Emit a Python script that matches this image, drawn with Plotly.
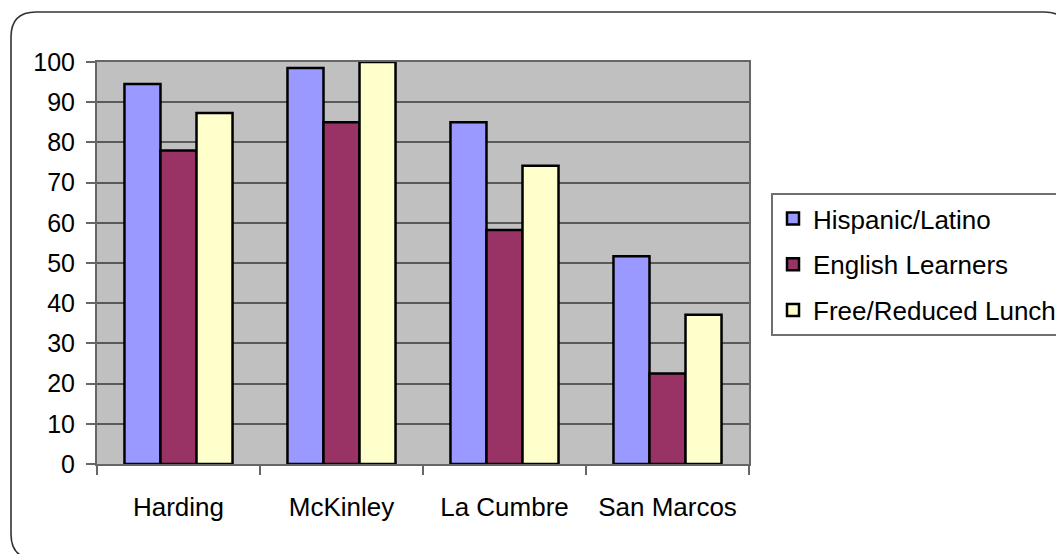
import plotly.graph_objects as go

# School demographics (% of students)
schools = ["Harding", "McKinley", "La Cumbre", "San Marcos"]
hispanic_latino = [94.5, 98.5, 85, 51.7]
english_learners = [78, 85, 58.2, 22.5]
free_reduced_lunch = [87.3, 100, 74.2, 37.1]
y_ticks = [0, 10, 20, 30, 40, 50, 60, 70, 80, 90, 100]

series = [
    ("Hispanic/Latino", hispanic_latino, "#9999FF"),
    ("English Learners", english_learners, "#993366"),
    ("Free/Reduced Lunch", free_reduced_lunch, "#FFFFCC"),
]

W, H = 1056, 554
L, R, T, B = 97, 749, 62, 464  # plot area in pixels

FONT = "Arial, 'Liberation Sans', sans-serif"

fig = go.Figure()
for i, (name, vals, color) in enumerate(series):
    fig.add_trace(go.Bar(
        x=schools, y=vals, name=name,
        legendgroup=f"g{i}",
        marker=dict(color=color, line=dict(color="black", width=2.5)),
    ))


def px_x(px):
    return (px - L) / (R - L)


def px_y(py):
    return (B - py) / (B - T)


# rounded outer frame around the whole chart
x0, x1, y0, y1, r = 11, 1069, 12, 559, 25
frame = (
    f"M {px_x(x0 + r)},{px_y(y0)} L {px_x(x1 - r)},{px_y(y0)} "
    f"Q {px_x(x1)},{px_y(y0)} {px_x(x1)},{px_y(y0 + r)} "
    f"L {px_x(x1)},{px_y(y1 - r)} "
    f"Q {px_x(x1)},{px_y(y1)} {px_x(x1 - r)},{px_y(y1)} "
    f"L {px_x(x0 + r)},{px_y(y1)} "
    f"Q {px_x(x0)},{px_y(y1)} {px_x(x0)},{px_y(y1 - r)} "
    f"L {px_x(x0)},{px_y(y0 + r)} "
    f"Q {px_x(x0)},{px_y(y0)} {px_x(x0 + r)},{px_y(y0)} Z"
)

fig.update_layout(
    width=W, height=H,
    margin=dict(l=L, r=W - R, t=T, b=H - B, pad=0, autoexpand=False),
    paper_bgcolor="white",
    plot_bgcolor="#C0C0C0",
    barmode="group",
    bargap=0.337,
    bargroupgap=0,
    font=dict(family=FONT, size=25, color="black"),
    showlegend=True,
    legend=dict(
        x=px_x(771), y=px_y(193), xanchor="left", yanchor="top",
        bgcolor="white", bordercolor="#707070", borderwidth=2,
        font=dict(family=FONT, size=26, color="black"),
        tracegroupgap=9, itemwidth=30,
    ),
    shapes=[dict(type="path", xref="paper", yref="paper", path=frame,
                 line=dict(color="#333333", width=1.6), layer="below")],
)

fig.update_xaxes(
    type="category",
    tickson="boundaries",
    ticks="outside", ticklen=9, tickcolor="#666666", tickwidth=2,
    showline=True, linecolor="#666666", linewidth=2, mirror=True,
    showgrid=False,
    ticklabelstandoff=19,
    tickfont=dict(family=FONT, size=26, color="black"),
)
fig.update_yaxes(
    range=[0, 100],
    tickvals=y_ticks,
    ticks="outside", ticklen=9, tickcolor="#666666", tickwidth=2,
    showline=True, linecolor="#666666", linewidth=2, mirror=True,
    showgrid=True, gridcolor="#5A5A5A", gridwidth=1.5,
    zeroline=False,
    ticklabelstandoff=6,
    tickfont=dict(family=FONT, size=25, color="black"),
)

fig.write_html("out.html")
